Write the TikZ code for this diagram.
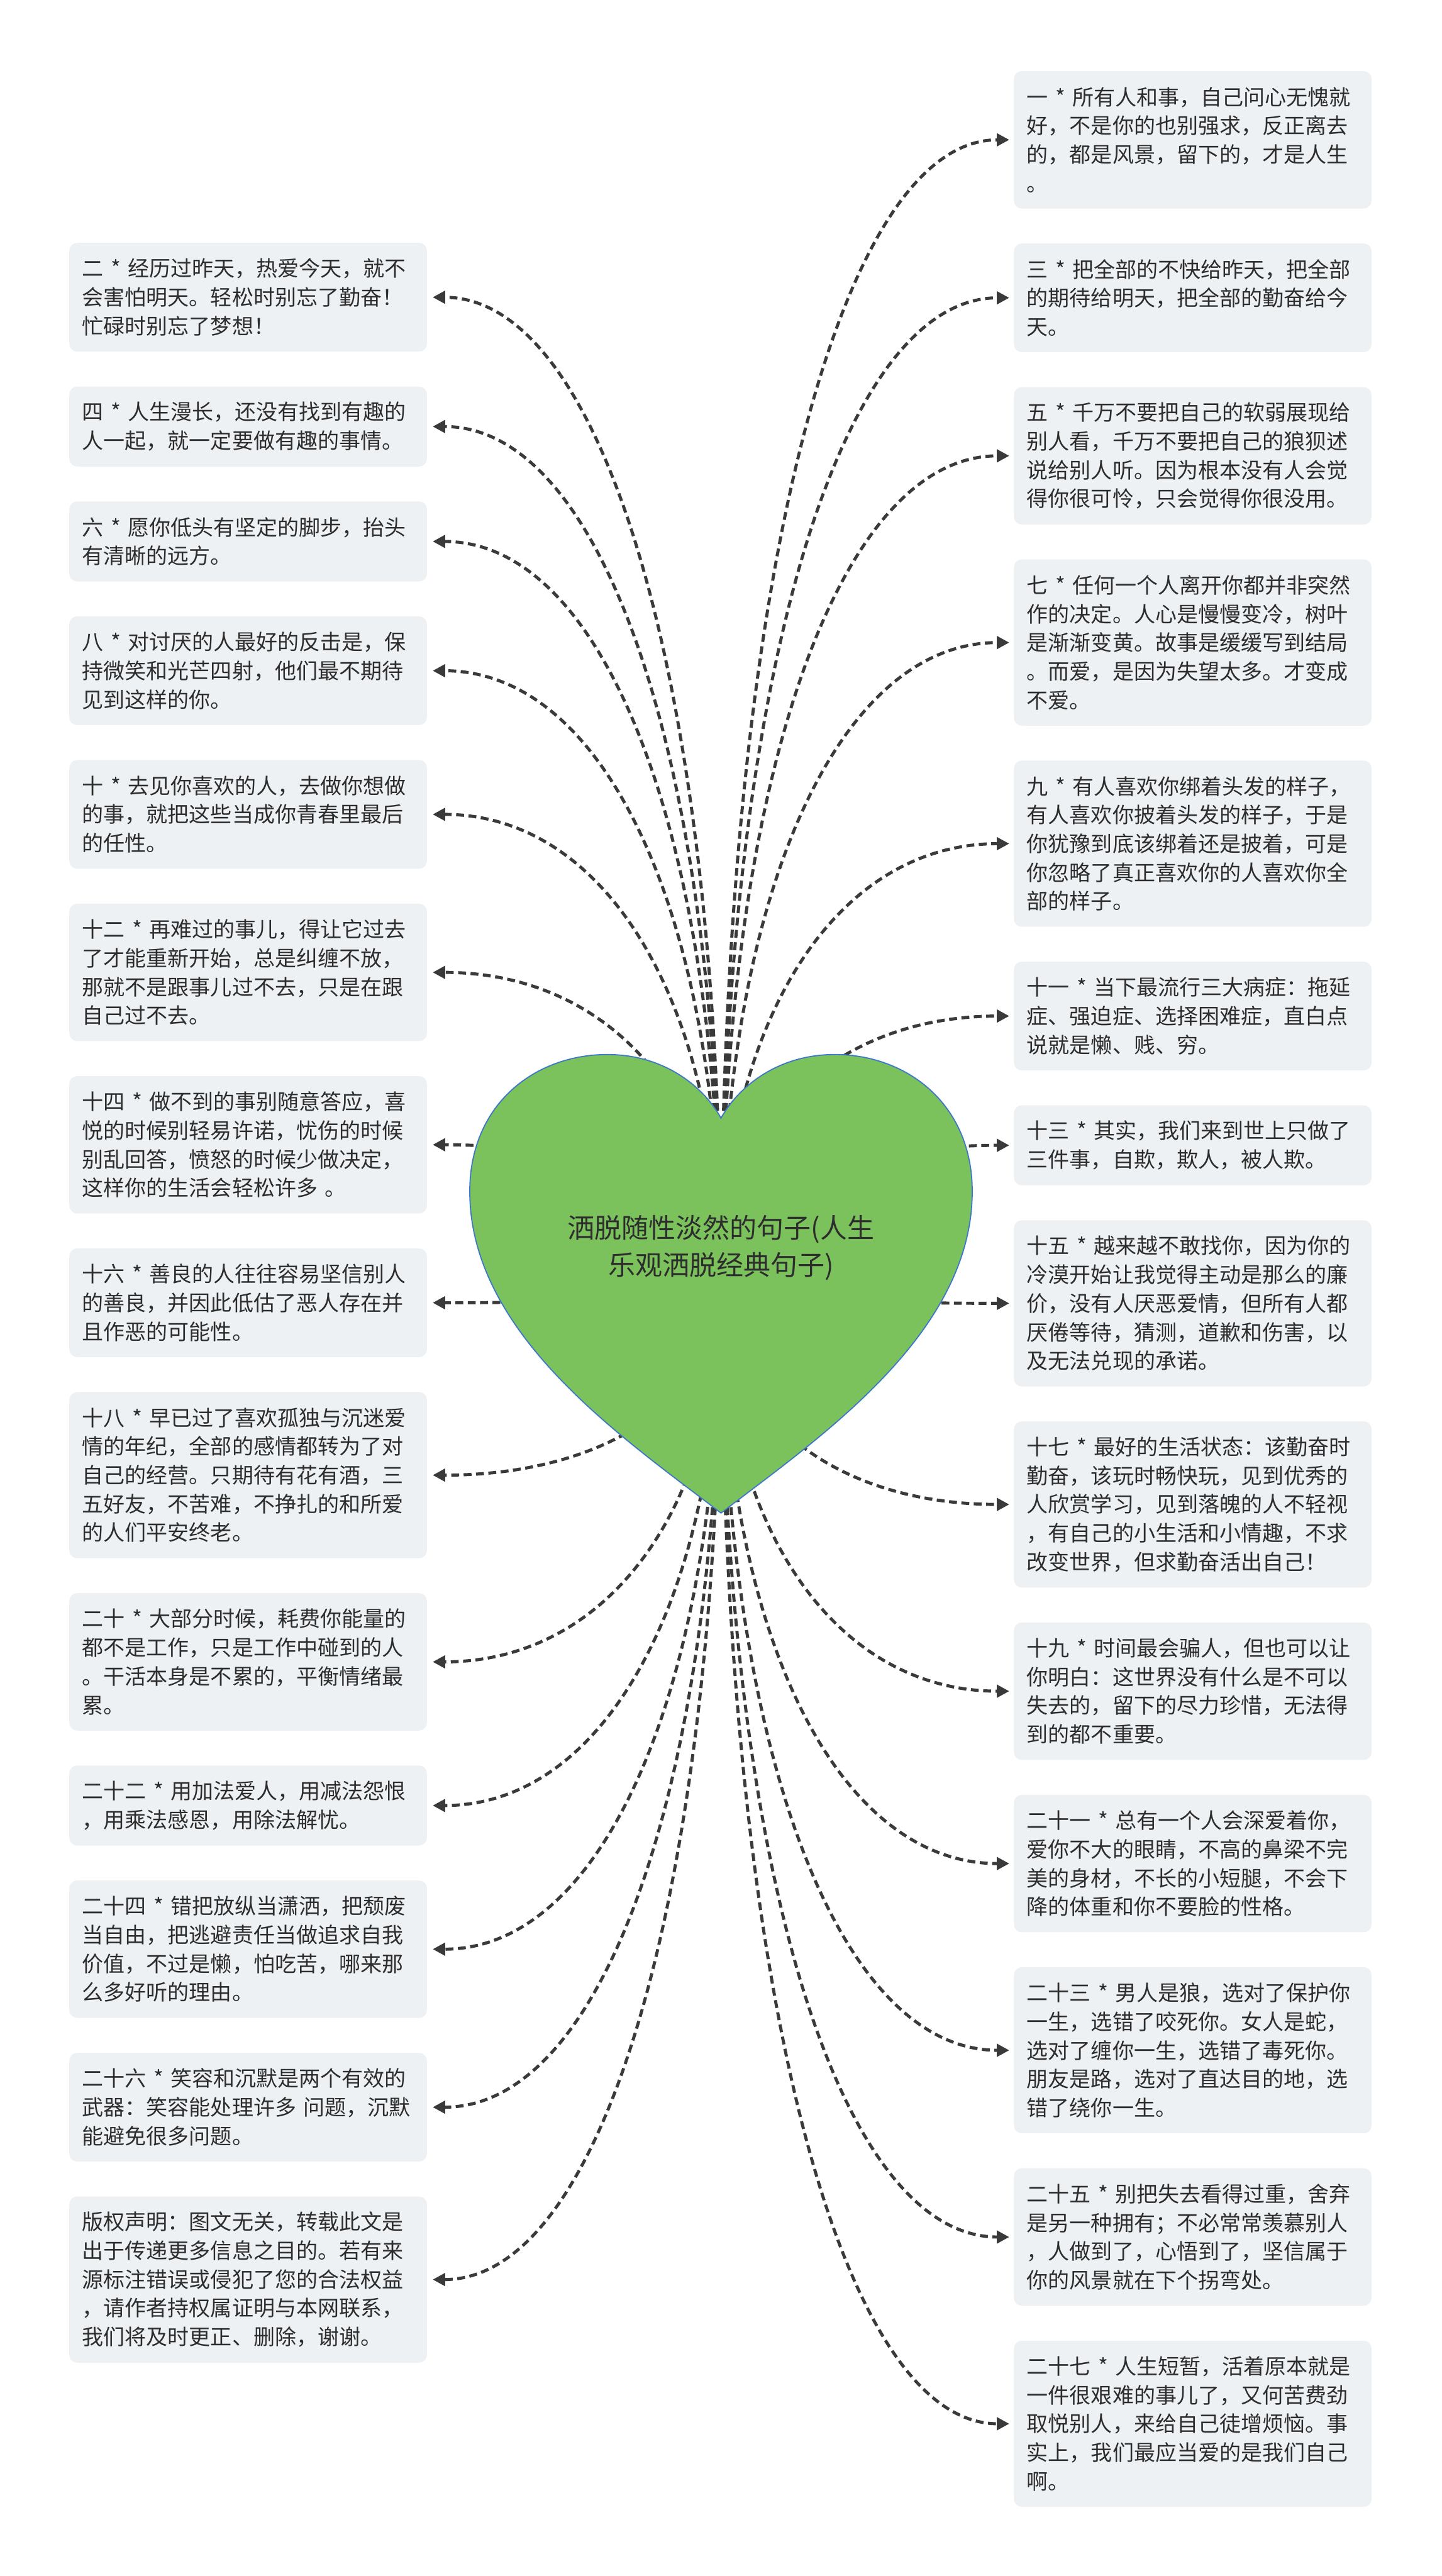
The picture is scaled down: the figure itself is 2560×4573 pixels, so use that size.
\documentclass[tikz,border=0pt]{standalone}
\usepackage{fontspec}
\newfontfamily\cjk{Noto Sans CJK SC}
\usetikzlibrary{arrows.meta,positioning,calc}
\definecolor{boxfill}{RGB}{238,241,244}
\definecolor{textc}{RGB}{45,45,45}
\definecolor{connc}{RGB}{58,58,58}
\definecolor{heartfill}{RGB}{124,194,92}
\definecolor{heartline}{RGB}{60,120,200}
\begin{document}
\begin{tikzpicture}[x=1pt,y=-1pt,
  qbox/.style={fill=boxfill, rounded corners=14pt, text width=589pt, inner xsep=23pt, inner ysep=0pt,
    align=left, text=textc, font=\cjk\fontsize{38}{51}\selectfont},
  conn/.style={draw=connc, line width=5.5pt, dash pattern=on 14pt off 8pt,
    -{Triangle[length=22pt,width=22pt]}}]
\fill[white] (0,0) rectangle (2560,4573);
\useasboundingbox (0,0) rectangle (2560,4573);

% ---------- left column ----------
\node[qbox, minimum height=193pt, anchor=north] (L1) at (440.5,431) {二 * 经历过昨天，热爱今天，就不\\会害怕明天。轻松时别忘了勤奋！\\忙碌时别忘了梦想！};
\node[qbox, minimum height=142pt, below=61.6pt of L1] (L2) {四 * 人生漫长，还没有找到有趣的\\人一起，就一定要做有趣的事情。};
\node[qbox, minimum height=142pt, below=61.6pt of L2] (L3) {六 * 愿你低头有坚定的脚步，抬头\\有清晰的远方。};
\node[qbox, minimum height=193pt, below=61.6pt of L3] (L4) {八 * 对讨厌的人最好的反击是，保\\持微笑和光芒四射，他们最不期待\\见到这样的你。};
\node[qbox, minimum height=193pt, below=61.6pt of L4] (L5) {十 * 去见你喜欢的人，去做你想做\\的事，就把这些当成你青春里最后\\的任性。};
\node[qbox, minimum height=244pt, below=61.6pt of L5] (L6) {十二 * 再难过的事儿，得让它过去\\了才能重新开始，总是纠缠不放，\\那就不是跟事儿过不去，只是在跟\\自己过不去。};
\node[qbox, minimum height=244pt, below=61.6pt of L6] (L7) {十四 * 做不到的事别随意答应，喜\\悦的时候别轻易许诺，忧伤的时候\\别乱回答，愤怒的时候少做决定，\\这样你的生活会轻松许多 。};
\node[qbox, minimum height=193pt, below=61.6pt of L7] (L8) {十六 * 善良的人往往容易坚信别人\\的善良，并因此低估了恶人存在并\\且作恶的可能性。};
\node[qbox, minimum height=295pt, below=61.6pt of L8] (L9) {十八 * 早已过了喜欢孤独与沉迷爱\\情的年纪，全部的感情都转为了对\\自己的经营。只期待有花有酒，三\\五好友，不苦难，不挣扎的和所爱\\的人们平安终老。};
\node[qbox, minimum height=244pt, below=61.6pt of L9] (L10) {二十 * 大部分时候，耗费你能量的\\都不是工作，只是工作中碰到的人\\。干活本身是不累的，平衡情绪最\\累。};
\node[qbox, minimum height=142pt, below=61.6pt of L10] (L11) {二十二 * 用加法爱人，用减法怨恨\\，用乘法感恩，用除法解忧。};
\node[qbox, minimum height=244pt, below=61.6pt of L11] (L12) {二十四 * 错把放纵当潇洒，把颓废\\当自由，把逃避责任当做追求自我\\价值，不过是懒，怕吃苦，哪来那\\么多好听的理由。};
\node[qbox, minimum height=193pt, below=61.6pt of L12] (L13) {二十六 * 笑容和沉默是两个有效的\\武器：笑容能处理许多 问题，沉默\\能避免很多问题。};
\node[qbox, minimum height=295pt, below=61.6pt of L13] (L14) {版权声明：图文无关，转载此文是\\出于传递更多信息之目的。若有来\\源标注错误或侵犯了您的合法权益\\，请作者持权属证明与本网联系，\\我们将及时更正、删除，谢谢。};

% ---------- right column ----------
\node[qbox, minimum height=244pt, anchor=north] (R1) at (2117.5,126) {一 * 所有人和事，自己问心无愧就\\好，不是你的也别强求，反正离去\\的，都是风景，留下的，才是人生\\。};
\node[qbox, minimum height=193pt, below=61.6pt of R1] (R2) {三 * 把全部的不快给昨天，把全部\\的期待给明天，把全部的勤奋给今\\天。};
\node[qbox, minimum height=244pt, below=61.6pt of R2] (R3) {五 * 千万不要把自己的软弱展现给\\别人看，千万不要把自己的狼狈述\\说给别人听。因为根本没有人会觉\\得你很可怜，只会觉得你很没用。};
\node[qbox, minimum height=295pt, below=61.6pt of R3] (R4) {七 * 任何一个人离开你都并非突然\\作的决定。人心是慢慢变冷，树叶\\是渐渐变黄。故事是缓缓写到结局\\。而爱，是因为失望太多。才变成\\不爱。};
\node[qbox, minimum height=295pt, below=61.6pt of R4] (R5) {九 * 有人喜欢你绑着头发的样子，\\有人喜欢你披着头发的样子，于是\\你犹豫到底该绑着还是披着，可是\\你忽略了真正喜欢你的人喜欢你全\\部的样子。};
\node[qbox, minimum height=193pt, below=61.6pt of R5] (R6) {十一 * 当下最流行三大病症：拖延\\症、强迫症、选择困难症，直白点\\说就是懒、贱、穷。};
\node[qbox, minimum height=142pt, below=61.6pt of R6] (R7) {十三 * 其实，我们来到世上只做了\\三件事，自欺，欺人，被人欺。};
\node[qbox, minimum height=295pt, below=61.6pt of R7] (R8) {十五 * 越来越不敢找你，因为你的\\冷漠开始让我觉得主动是那么的廉\\价，没有人厌恶爱情，但所有人都\\厌倦等待，猜测，道歉和伤害，以\\及无法兑现的承诺。};
\node[qbox, minimum height=295pt, below=61.6pt of R8] (R9) {十七 * 最好的生活状态：该勤奋时\\勤奋，该玩时畅快玩，见到优秀的\\人欣赏学习，见到落魄的人不轻视\\，有自己的小生活和小情趣，不求\\改变世界，但求勤奋活出自己！};
\node[qbox, minimum height=244pt, below=61.6pt of R9] (R10) {十九 * 时间最会骗人，但也可以让\\你明白：这世界没有什么是不可以\\失去的，留下的尽力珍惜，无法得\\到的都不重要。};
\node[qbox, minimum height=244pt, below=61.6pt of R10] (R11) {二十一 * 总有一个人会深爱着你，\\爱你不大的眼睛，不高的鼻梁不完\\美的身材，不长的小短腿，不会下\\降的体重和你不要脸的性格。};
\node[qbox, minimum height=295pt, below=61.6pt of R11] (R12) {二十三 * 男人是狼，选对了保护你\\一生，选错了咬死你。女人是蛇，\\选对了缠你一生，选错了毒死你。\\朋友是路，选对了直达目的地，选\\错了绕你一生。};
\node[qbox, minimum height=244pt, below=61.6pt of R12] (R13) {二十五 * 别把失去看得过重，舍弃\\是另一种拥有；不必常常羡慕别人\\，人做到了，心悟到了，坚信属于\\你的风景就在下个拐弯处。};
\node[qbox, minimum height=295pt, below=61.6pt of R13] (R14) {二十七 * 人生短暂，活着原本就是\\一件很艰难的事儿了，又何苦费劲\\取悦别人，来给自己徒增烦恼。事\\实上，我们最应当爱的是我们自己\\啊。};

% ---------- connectors ----------
\coordinate (h) at (1280,2280);
\foreach \n in {L1,L2,L3,L4,L5,L6,L7,L8,L9,L10,L11,L12,L13,L14} {
  \coordinate (e\n) at ($(\n.east)+(10,0)$);
  \draw[conn] (h) .. controls ($(h)!0.6!(h|-e\n)$) and ($(e\n)!0.6!(h|-e\n)$) .. (e\n);
}
\foreach \n in {R1,R2,R3,R4,R5,R6,R7,R8,R9,R10,R11,R12,R13,R14} {
  \coordinate (e\n) at ($(\n.west)+(-8,0)$);
  \draw[conn] (h) .. controls ($(h)!0.6!(h|-e\n)$) and ($(e\n)!0.6!(h|-e\n)$) .. (e\n);
}

% ---------- heart ----------
\path[fill=heartfill, draw=heartline, line width=2pt]
  (1280,2686) .. controls (1110,2555) and (834,2370) .. (834,2115)
  .. controls (834,1960) and (950,1872) .. (1078,1872)
  .. controls (1180,1872) and (1250,1930) .. (1280,1985)
  .. controls (1310,1930) and (1380,1872) .. (1482,1872)
  .. controls (1610,1872) and (1726,1960) .. (1726,2115)
  .. controls (1726,2370) and (1450,2555) .. (1280,2686) -- cycle;
\node[align=center, text=textc, font=\cjk\fontsize{48}{66}\selectfont] (title) at (1280,2215) {洒脱随性淡然的句子(人生\\乐观洒脱经典句子)};
\end{tikzpicture}
\end{document}
